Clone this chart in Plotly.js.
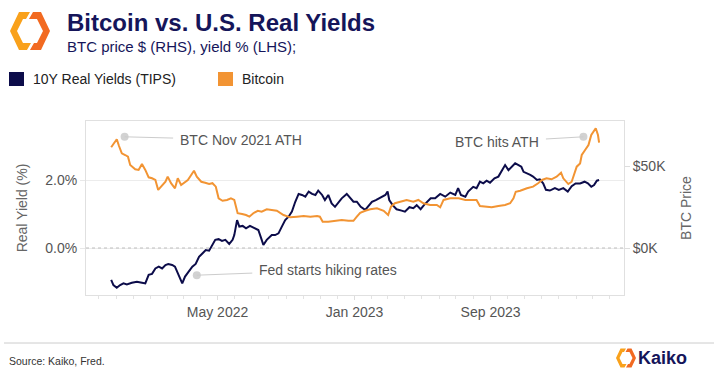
<!DOCTYPE html>
<html>
<head>
<meta charset="utf-8">
<script src="https://cdn.plot.ly/plotly-3.0.1.min.js"></script>
<style>html,body{margin:0;padding:0;background:#fff;}#chart{width:718px;height:376px;}</style>
</head>
<body>
<div id="chart"></div>
<script>
// ---------- DATA ----------
const btcDates = ['2021-10-23','2021-10-30','2021-11-02','2021-11-06','2021-11-11','2021-11-17','2021-11-22','2021-11-26','2021-12-05','2021-12-11',
'2021-12-17','2021-12-23','2021-12-29','2022-01-04','2022-01-10','2022-01-15','2022-01-20','2022-01-28','2022-02-01','2022-02-07',
'2022-02-14','2022-02-19','2022-02-25','2022-03-03','2022-03-09','2022-03-15','2022-03-20','2022-03-25','2022-04-02','2022-04-09',
'2022-04-16','2022-04-22','2022-04-28','2022-05-03','2022-05-10','2022-05-18','2022-05-25','2022-05-31','2022-06-06','2022-06-14',
'2022-06-21','2022-06-27','2022-07-04','2022-07-12','2022-07-19','2022-07-28','2022-08-06','2022-08-15','2022-08-27','2022-09-08',
'2022-09-20','2022-10-02','2022-10-14','2022-10-26','2022-10-31','2022-11-05','2022-11-15','2022-11-27','2022-12-09','2022-12-21',
'2022-12-30','2023-01-05','2023-01-11','2023-01-20','2023-01-29','2023-02-10','2023-02-22','2023-03-02','2023-03-07','2023-03-14',
'2023-03-26','2023-04-04','2023-04-16','2023-04-25','2023-05-04','2023-05-16','2023-05-28','2023-06-03','2023-06-09','2023-06-21',
'2023-07-06','2023-07-18','2023-07-30','2023-08-07','2023-08-13','2023-08-22','2023-09-03','2023-09-15','2023-09-27','2023-10-06',
'2023-10-12','2023-10-16','2023-10-24','2023-11-05','2023-11-16','2023-11-25','2023-12-02','2023-12-10','2023-12-19','2023-12-28',
'2024-01-05','2024-01-09','2024-01-18','2024-01-24','2024-02-02','2024-02-08','2024-02-11','2024-02-17','2024-02-23','2024-02-28',
'2024-03-04','2024-03-07','2024-03-11','2024-03-13'];
const btcPriceK = [61.4,64.8,66.3,62.2,57.7,56.7,55.7,50.6,48.0,47.6,
51.2,47.6,43.1,42.5,41.5,35.4,37.4,40.4,43.5,39.5,
36.4,42.5,38.4,39.8,41.5,44.5,47.1,43.5,40.4,39.8,
39.0,39.5,37.4,30.3,28.8,29.3,30.3,29.3,21.2,20.7,
20.1,19.1,21.2,22.7,22.1,23.6,23.2,22.7,20.1,18.7,
19.1,19.5,19.1,19.5,19.1,16.0,16.0,16.6,17.1,16.6,
16.6,19.1,21.5,22.7,23.6,24.2,22.7,20.1,25.2,27.3,
28.2,29.3,28.2,29.3,27.3,26.2,26.2,24.8,29.3,30.3,
30.3,29.3,29.3,29.3,25.6,25.2,24.8,25.6,26.2,27.3,
30.3,34.3,34.9,36.4,37.4,39.5,41.5,42.5,41.9,43.5,
45.9,42.5,39.0,40.4,49.6,51.6,56.7,59.8,62.8,68.9,
72.0,73.0,68.9,64.2];

const yieldDates = ['2021-10-23','2021-10-27','2021-11-02','2021-11-08','2021-11-14','2021-11-20','2021-11-29','2021-12-08','2021-12-17','2021-12-23',
'2021-12-29','2022-01-04','2022-01-10','2022-01-16','2022-01-22','2022-01-28','2022-02-02','2022-02-09','2022-02-14','2022-02-19',
'2022-02-23','2022-02-27','2022-03-04','2022-03-10','2022-03-17','2022-03-23','2022-03-29','2022-04-04','2022-04-10','2022-04-16',
'2022-04-22','2022-04-27','2022-05-03','2022-05-09','2022-05-15','2022-05-22','2022-05-28','2022-05-31','2022-06-05','2022-06-09',
'2022-06-15','2022-06-21','2022-06-28','2022-07-06','2022-07-13','2022-07-18','2022-07-22','2022-07-28','2022-08-06','2022-08-12',
'2022-08-18','2022-08-24','2022-08-30','2022-09-05','2022-09-11','2022-09-17','2022-09-23','2022-09-29','2022-10-05','2022-10-11',
'2022-10-17','2022-10-23','2022-10-28','2022-11-04','2022-11-09','2022-11-15','2022-11-21','2022-11-27','2022-12-03','2022-12-09',
'2022-12-18','2022-12-24','2022-12-30','2023-01-05','2023-01-12','2023-01-20','2023-01-26','2023-02-01','2023-02-08','2023-02-16',
'2023-02-25','2023-03-01','2023-03-04','2023-03-10','2023-03-17','2023-03-26','2023-04-01','2023-04-09','2023-04-16','2023-04-22',
'2023-04-29','2023-05-05','2023-05-11','2023-05-17','2023-05-25','2023-06-03','2023-06-12','2023-06-21','2023-06-30','2023-07-05',
'2023-07-10','2023-07-18','2023-07-23','2023-08-01','2023-08-07','2023-08-13','2023-08-19','2023-08-25','2023-08-31','2023-09-08',
'2023-09-15','2023-09-21','2023-09-27','2023-10-03','2023-10-09','2023-10-15','2023-10-21','2023-10-26','2023-10-30','2023-11-05',
'2023-11-11','2023-11-16','2023-11-23','2023-11-28','2023-12-04','2023-12-09','2023-12-16','2023-12-25','2024-01-01','2024-01-09',
'2024-01-17','2024-01-24','2024-01-31','2024-02-08','2024-02-16','2024-02-22','2024-02-28','2024-03-04','2024-03-09','2024-03-13'];
const realYield = [-0.94,-1.09,-1.17,-1.09,-1.04,-1.07,-1.02,-0.99,-1.02,-1.04,
-0.79,-0.76,-0.60,-0.55,-0.60,-0.50,-0.47,-0.50,-0.55,-0.74,
-0.94,-1.04,-0.84,-0.70,-0.55,-0.47,-0.26,-0.16,-0.06,-0.08,
0.09,0.24,0.26,0.21,0.24,0.12,0.24,0.38,0.82,0.63,
0.65,0.58,0.65,0.58,0.53,0.29,0.09,0.24,0.38,0.38,
0.43,0.63,0.82,0.92,1.07,1.36,1.59,1.56,1.51,1.66,
1.59,1.56,1.69,1.56,1.41,1.56,1.31,1.21,1.33,1.46,
1.59,1.49,1.36,1.36,1.21,1.12,1.24,1.36,1.41,1.49,
1.56,1.66,1.41,1.26,1.14,1.10,1.07,1.20,1.17,1.26,
1.14,1.26,1.36,1.46,1.46,1.59,1.51,1.63,1.56,1.76,
1.56,1.51,1.66,1.80,1.76,1.95,1.90,1.98,1.92,2.05,
2.10,2.29,2.44,2.29,2.39,2.49,2.44,2.39,2.24,2.20,
2.15,2.10,2.00,2.02,1.90,1.71,1.69,1.76,1.71,1.76,
1.66,1.82,1.90,1.90,1.95,1.90,1.80,1.85,1.98,2.00];

const noteDates = ['2021-11-16','2022-03-25','2024-02-14'];
const noteYield = [3.27,-0.80,3.27];
const noteTexts = ['BTC Nov 2021 ATH','Fed starts hiking rates','BTC hits ATH'];

const seriesNames = ['10Y Real Yields (TIPS)','Bitcoin'];
const xTickFormat = '%b %Y';
const yTicks = [0,2];
const yTickText = ['0.0%','2.0%'];
const y2Ticks = [0,50];
const y2TickText = ['$0K','$50K'];

// ---------- STYLE / LAYOUT ----------
const NAVY = '#0c0c4a', ORANGE = '#f29433', FONT = 'Liberation Sans, Arial, Helvetica, sans-serif';
const L=86, R=624, T=121, B=295;
const px = x => (x-L)/(R-L);
const py = y => (B-y)/(B-T);
const pathOf = pts => 'M ' + pts.map(p => px(p[0]).toFixed(5)+','+py(p[1]).toFixed(5)).join(' L ') + ' Z';

function logo(cx, cy, s){
  const left = [[0,-19],[-11,-19],[-20,0],[-11,19],[-3,19],[1,12],[-7,12],[-13,0],[-7,-12],[-4,-12]];
  const right = left.map(p => [-p[0], -p[1]]);
  const tr = pts => pts.map(p => [cx+p[0]*s, cy+p[1]*s]);
  return [
    {type:'path', xref:'paper', yref:'paper', path: pathOf(tr(left)), fillcolor:'#f9a11b', line:{width:0}, layer:'above'},
    {type:'path', xref:'paper', yref:'paper', path: pathOf(tr(right)), fillcolor:'#f26a21', line:{width:0}, layer:'above'}
  ];
}

const traces = [
  {x: btcDates, y: btcPriceK, yaxis:'y2', type:'scatter', mode:'lines', name: seriesNames[1],
   line:{color:ORANGE, width:2}, hoverinfo:'skip', showlegend:false},
  {x: yieldDates, y: realYield, yaxis:'y', type:'scatter', mode:'lines', name: seriesNames[0],
   line:{color:NAVY, width:2}, hoverinfo:'skip', showlegend:false},
  {x: noteDates, y: noteYield, yaxis:'y', type:'scatter', mode:'markers',
   marker:{color:'#d2d2d2', size:8}, hoverinfo:'skip', showlegend:false, cliponaxis:false}
];

const annotations = [
  {xref:'paper', yref:'paper', x:px(65), y:py(23), xanchor:'left', yanchor:'middle', showarrow:false,
   text:'<b>Bitcoin vs. U.S. Real Yields</b>', font:{family:FONT, size:24, color:'#15155a'}},
  {xref:'paper', yref:'paper', x:px(65), y:py(46.5), xanchor:'left', yanchor:'middle', showarrow:false,
   text:'BTC price $ (RHS), yield % (LHS);', font:{family:FONT, size:15, color:'#15155a'}},
  {xref:'paper', yref:'paper', x:px(31), y:py(78.5), xanchor:'left', yanchor:'middle', showarrow:false,
   text:seriesNames[0], font:{family:FONT, size:14, color:'#222'}},
  {xref:'paper', yref:'paper', x:px(240), y:py(78.5), xanchor:'left', yanchor:'middle', showarrow:false,
   text:seriesNames[1], font:{family:FONT, size:14, color:'#222'}},
  {xref:'paper', yref:'paper', x:px(7), y:py(361), xanchor:'left', yanchor:'middle', showarrow:false,
   text:'Source: Kaiko, Fred.', font:{family:FONT, size:10.5, color:'#333'}},
  {xref:'paper', yref:'paper', x:px(636), y:py(358), xanchor:'left', yanchor:'middle', showarrow:false,
   text:'<b>Kaiko</b>', font:{family:FONT, size:18, color:'#15155a'}}
];
const offs = [[116,3],[131,-5],[-86,5]];
noteTexts.forEach((t,i) => annotations.push({
  x: noteDates[i], y: noteYield[i], xref:'x', yref:'y', text:t, showarrow:true,
  arrowhead:0, arrowwidth:1, arrowcolor:'#cccccc', ax:offs[i][0], ay:offs[i][1], standoff:0,
  borderpad:6, font:{family:FONT, size:14, color:'#555'}
}));

const shapes = [
  {type:'line', xref:'paper', yref:'y', x0:0, x1:1, y0:0, y1:0, line:{color:'#bdbdbd', width:1, dash:'dot'}},
  {type:'rect', xref:'paper', yref:'paper', x0:px(9), x1:px(24), y0:py(86), y1:py(72), fillcolor:NAVY, line:{width:0}},
  {type:'rect', xref:'paper', yref:'paper', x0:px(218), x1:px(233), y0:py(86), y1:py(72), fillcolor:ORANGE, line:{width:0}},
  {type:'line', xref:'paper', yref:'paper', x0:px(4), x1:px(714), y0:py(343), y1:py(343), line:{color:'#cccccc', width:1}},
  ...logo(30, 31, 1.0),
  ...logo(626, 358, 0.5)
];

const layout = {
  width:718, height:376,
  margin:{l:L, r:718-R, t:T, b:376-B, pad:0},
  paper_bgcolor:'#fff', plot_bgcolor:'#fff',
  font:{family:FONT, size:14, color:'#555'},
  showlegend:false,
  xaxis:{type:'date', range:['2021-09-08','2024-04-26 12:00'],
    tick0:'2022-05-01', dtick:'M8', tickformat:xTickFormat,
    ticks:'outside', ticklen:4, tickcolor:'#dddddd', tickfont:{size:14, color:'#555'},
    showgrid:false, zeroline:false, showline:true, mirror:true, linecolor:'#e0e0e0', linewidth:1,
    minor:{dtick:'M1', tick0:'2022-05-01', ticks:'outside', ticklen:3, tickcolor:'#e3e3e3', showgrid:false}},
  yaxis:{range:[-1.382, 3.735], tickmode:'array', tickvals:yTicks, ticktext:yTickText,
    ticks:'outside', ticklen:5, tickcolor:'#e8e8e8', tickfont:{size:14, color:'#555'},
    showgrid:true, gridcolor:'#ececec', zeroline:false, showline:true, mirror:true, linecolor:'#e0e0e0',
    title:{text:'Real Yield (%)', font:{size:14, color:'#666'}, standoff:14}},
  yaxis2:{overlaying:'y', side:'right', range:[-28.66, 77.44], tickmode:'array', tickvals:y2Ticks, ticktext:y2TickText,
    ticks:'outside', ticklen:5, tickcolor:'#dddddd', tickfont:{size:14, color:'#555'},
    showgrid:false, zeroline:false, showline:false,
    title:{text:'BTC Price', font:{size:14, color:'#666'}, standoff:16}},
  annotations, shapes
};

Plotly.newPlot('chart', traces, layout, {staticPlot:true, displayModeBar:false});
</script>
</body>
</html>
